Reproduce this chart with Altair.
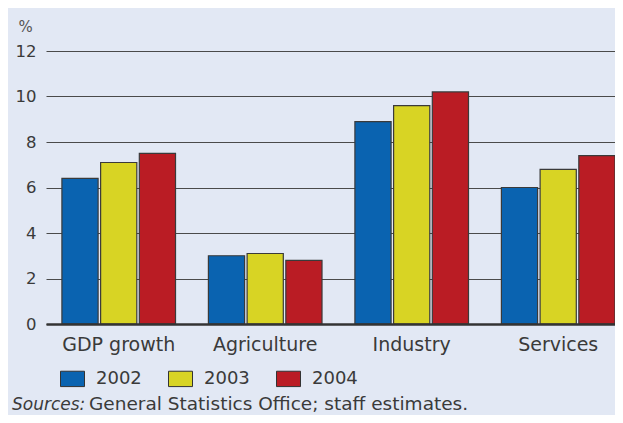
import altair as alt
import pandas as pd

categories = ["GDP growth", "Agriculture", "Industry", "Services"]
years = ["2002", "2003", "2004"]
v2002 = [6.4, 3.0, 8.9, 6.0]
v2003 = [7.1, 3.1, 9.6, 6.8]
v2004 = [7.5, 2.8, 10.2, 7.4]
y_ticks = [0, 2, 4, 6, 8, 10, 12]
colors = ["#0a63b0", "#d8d424", "#ba1c24"]
source_italic = "Sources:"
source_rest = "General Statistics Office; staff estimates."

rows = []
for vals, yr in zip([v2002, v2003, v2004], years):
    for c, v in zip(categories, vals):
        rows.append({"sector": c, "year": yr, "value": v})
df = pd.DataFrame(rows)

FONT = "DejaVu Sans"
TXT = "#3a3a3a"

bars = alt.Chart(df).mark_bar(stroke="#3a3a3a", strokeWidth=1.2).encode(
    x=alt.X(
        "sector:N",
        sort=categories,
        scale=alt.Scale(paddingInner=0.2245, paddingOuter=0.0543, align=1),
        axis=alt.Axis(
            title=None, labelAngle=0, labelFontSize=19, labelColor=TXT,
            labelFont=FONT, labelPadding=11, ticks=False, domain=True,
            domainColor="#333333", domainWidth=2.5, grid=False, zindex=1,
        ),
    ),
    xOffset=alt.XOffset("year:N", sort=years,
                        scale=alt.Scale(paddingInner=0.065, paddingOuter=0)),
    y=alt.Y(
        "value:Q",
        scale=alt.Scale(domain=[0, 12], nice=False),
        axis=alt.Axis(
            values=y_ticks, title="%", titleAngle=0, titleFont=FONT,
            titleFontSize=15, titleFontWeight="normal", titleColor="#555555",
            titleX=-21, titleY=-25, titleAlign="center", titleBaseline="middle",
            labelFont=FONT, labelFontSize=16.5, labelColor=TXT, labelPadding=10,
            ticks=False, domain=False, grid=True, gridColor="#4a4a4a",
            gridWidth=1.1,
        ),
    ),
    color=alt.Color(
        "year:N",
        sort=years,
        scale=alt.Scale(domain=years, range=colors),
        legend=alt.Legend(
            title=None, orient="none", legendX=14, legendY=315,
            direction="horizontal",
            symbolType="M-1,-0.64L1,-0.64L1,0.64L-1,0.64Z",
            symbolSize=576, symbolStrokeColor="#333333", symbolStrokeWidth=1,
            labelFont=FONT, labelFontSize=18, labelColor=TXT, labelOffset=11,
            columnPadding=24,
        ),
    ),
)

src_df = pd.DataFrame({"a": [source_italic], "b": [source_rest]})
src1 = alt.Chart(src_df).mark_text(
    font=FONT, fontSize=17, fontStyle="italic", color=TXT, align="left",
    baseline="alphabetic",
).encode(text="a:N", x=alt.value(-34), y=alt.value(359))
src2 = alt.Chart(src_df).mark_text(
    font=FONT, fontSize=18.5, color=TXT, align="left", baseline="alphabetic",
).encode(text="b:N", x=alt.value(43), y=alt.value(359))

chart = alt.layer(bars, src1, src2).properties(
    width=569, height=273,
    autosize=alt.AutoSizeParams(type="none"),
    padding={"left": 38, "top": 43, "right": 0, "bottom": 91},
    background="#e2e8f4",
).configure_view(stroke=None)

chart.save("out.html", embed_options={"renderer": "svg", "actions": False})
